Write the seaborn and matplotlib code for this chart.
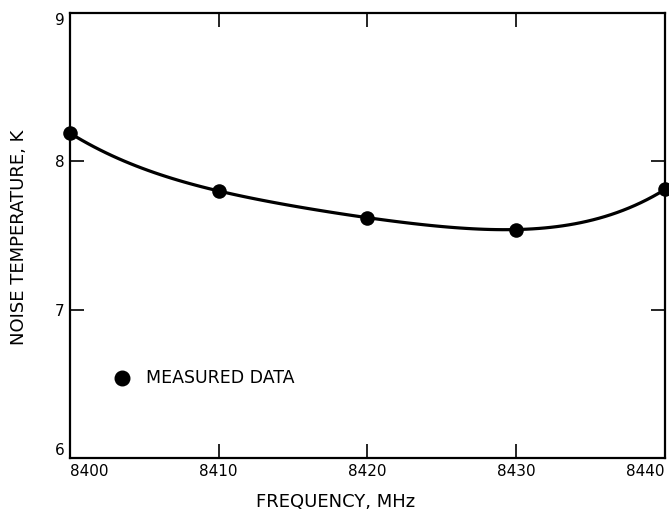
import matplotlib
matplotlib.use("Agg")
import matplotlib.pyplot as plt
import seaborn as sns
import pandas as pd

frequency = [8400, 8410, 8420, 8430, 8440]
noise_temp = [8.19, 7.80, 7.62, 7.54, 7.81]
x_ticks = [8400, 8410, 8420, 8430, 8440]
y_ticks = [6, 7, 8, 9]

sns.set_theme(style="white")
plt.rcParams['font.family'] = ['DejaVu Sans']
plt.rcParams['text.color'] = 'black'

df = pd.DataFrame({"freq": frequency, "temp": noise_temp})

fig = plt.figure(figsize=(6.69, 5.15), dpi=100)
ax = fig.add_axes([0.1046, 0.1107, 0.8894, 0.8641])

sns.regplot(data=df, x="freq", y="temp", order=4, ci=None, scatter=False,
            truncate=True, line_kws=dict(color="black", lw=2.3), ax=ax)
sns.scatterplot(data=df, x="freq", y="temp", color="black", s=110,
                edgecolor="black", linewidth=0, ax=ax, clip_on=False, zorder=5)

ax.set_xlim(8400, 8440)
ax.set_ylim(6, 9)
ax.set_xticks(x_ticks)
ax.set_yticks(y_ticks)
ax.set_xticklabels([str(t) for t in x_ticks], fontsize=11, color="black")
ax.set_yticklabels([str(t) for t in y_ticks], fontsize=11, color="black")
ax.tick_params(direction="in", length=10, width=1.2, top=True, right=True,
               bottom=True, left=True, labeltop=False, labelright=False,
               pad=4, colors="black")
xl = ax.get_xticklabels()
xl[0].set_ha("left")
xl[-1].set_ha("right")
yl = ax.get_yticklabels()
yl[0].set_va("bottom")
yl[-1].set_va("top")

for s in ax.spines.values():
    s.set_color("black")
    s.set_linewidth(1.6)

ax.set_xlabel("")
ax.set_ylabel("")
fig.text(336 / 669, 1 - 502 / 515, "FREQUENCY, MHz", fontsize=13,
         ha="center", va="center", color="black")
fig.text(19 / 669, 1 - 237 / 515, "NOISE TEMPERATURE, K", fontsize=13,
         ha="center", va="center", rotation=90, color="black")

# legend-like annotation
ax.scatter([8403.5], [6.54], s=110, color="black", zorder=5)
ax.text(8405.1, 6.54, "MEASURED DATA", fontsize=12.5, va="center", ha="left",
        color="black")

fig.savefig("out.png", dpi=100)
